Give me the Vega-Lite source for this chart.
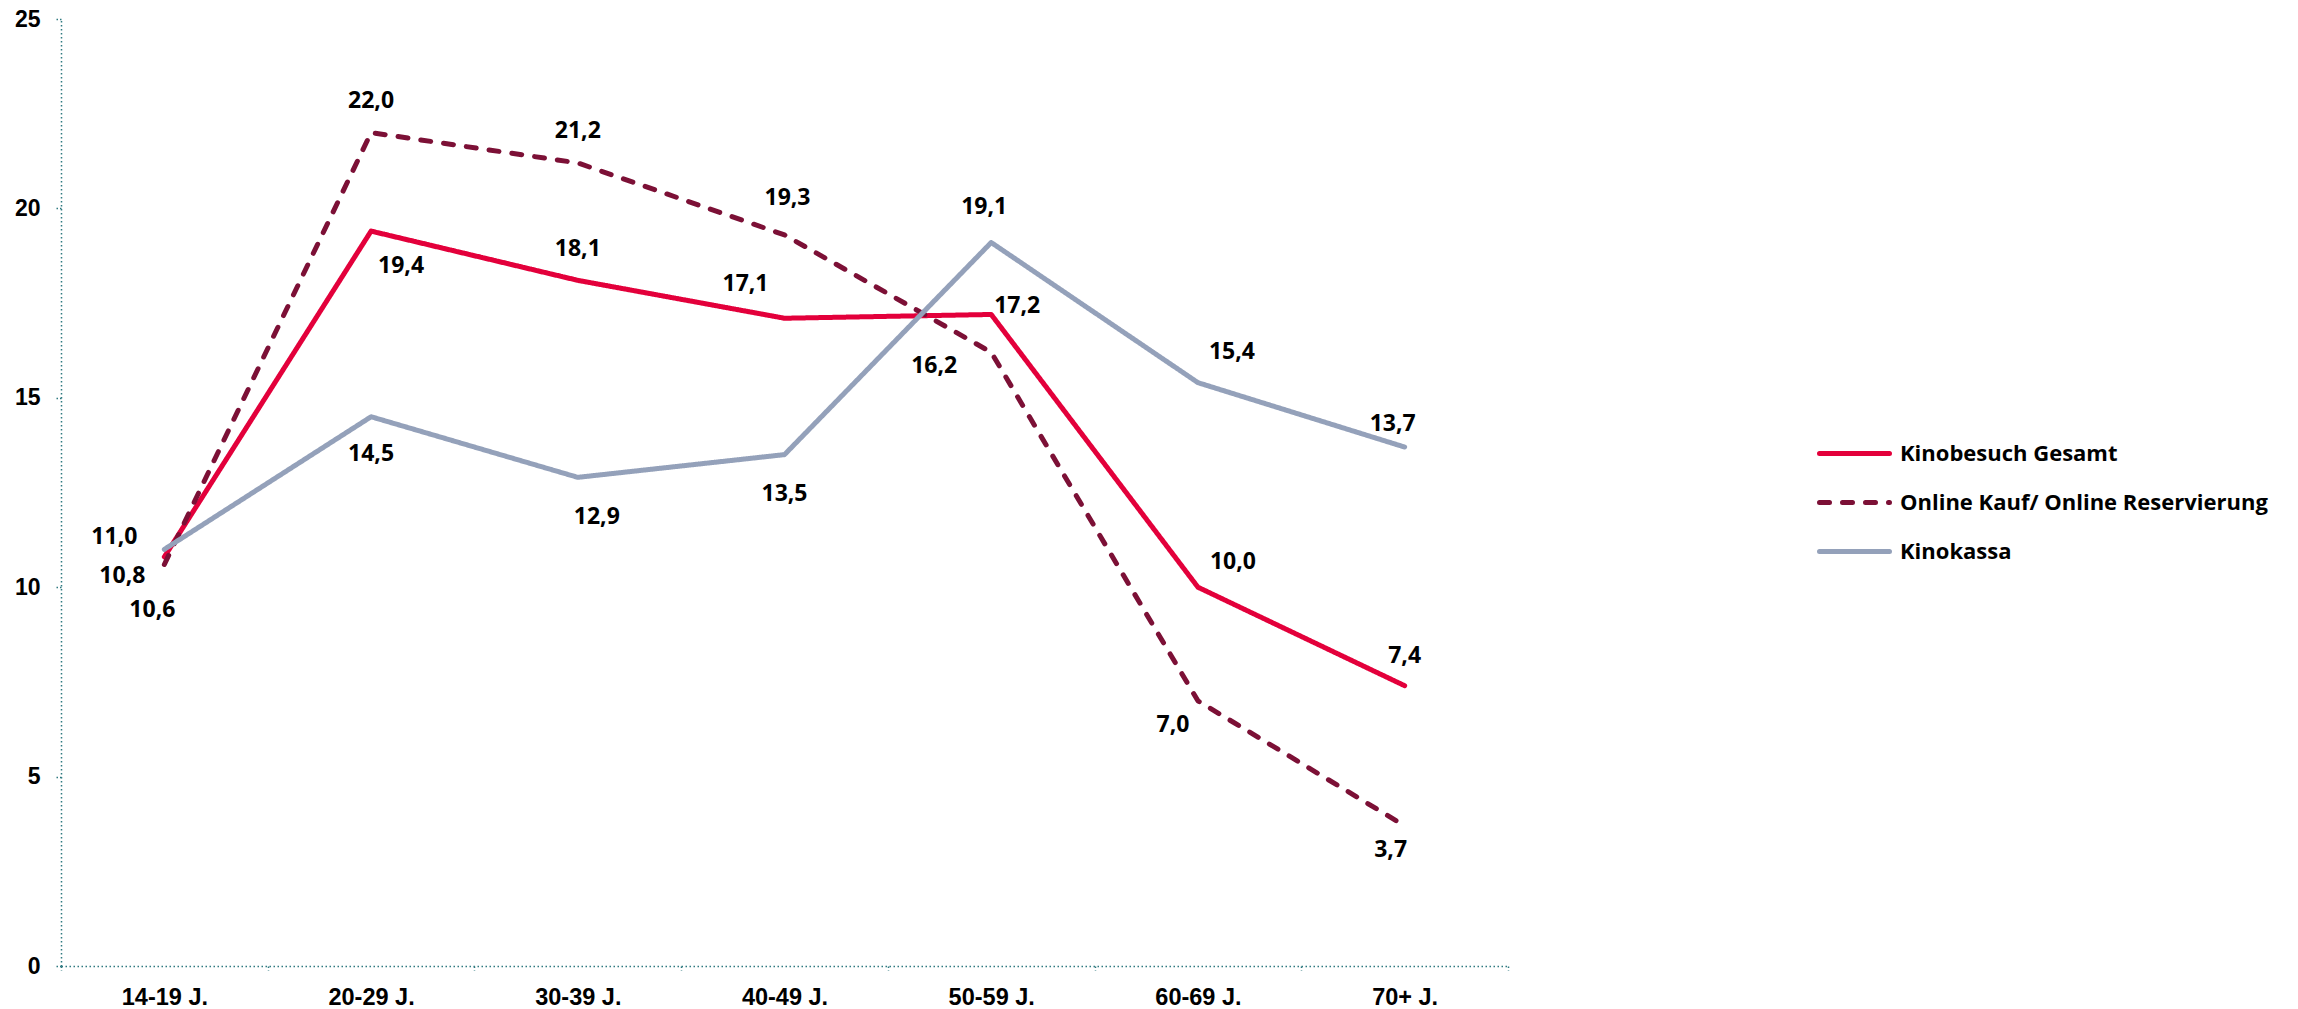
{
  "$schema": "https://vega.github.io/schema/vega-lite/v6.json",
  "width": 1447,
  "height": 947,
  "autosize": {"type": "none"},
  "padding": {"left": 61, "top": 19, "right": 790, "bottom": 43},
  "background": "#ffffff",
  "config": {
    "view": {"stroke": null},
    "locale": {"number": {"decimal": ",", "thousands": ".", "grouping": [3], "currency": ["", " €"]}}
  },
  "data": {
    "values": [
      {"Alter": "14-19 J.", "Serie": "Kinobesuch Gesamt", "Wert": 10.8},
      {"Alter": "20-29 J.", "Serie": "Kinobesuch Gesamt", "Wert": 19.4},
      {"Alter": "30-39 J.", "Serie": "Kinobesuch Gesamt", "Wert": 18.1},
      {"Alter": "40-49 J.", "Serie": "Kinobesuch Gesamt", "Wert": 17.1},
      {"Alter": "50-59 J.", "Serie": "Kinobesuch Gesamt", "Wert": 17.2},
      {"Alter": "60-69 J.", "Serie": "Kinobesuch Gesamt", "Wert": 10.0},
      {"Alter": "70+ J.", "Serie": "Kinobesuch Gesamt", "Wert": 7.4},
      {"Alter": "14-19 J.", "Serie": "Online Kauf/ Online Reservierung", "Wert": 10.6},
      {"Alter": "20-29 J.", "Serie": "Online Kauf/ Online Reservierung", "Wert": 22.0},
      {"Alter": "30-39 J.", "Serie": "Online Kauf/ Online Reservierung", "Wert": 21.2},
      {"Alter": "40-49 J.", "Serie": "Online Kauf/ Online Reservierung", "Wert": 19.3},
      {"Alter": "50-59 J.", "Serie": "Online Kauf/ Online Reservierung", "Wert": 16.2},
      {"Alter": "60-69 J.", "Serie": "Online Kauf/ Online Reservierung", "Wert": 7.0},
      {"Alter": "70+ J.", "Serie": "Online Kauf/ Online Reservierung", "Wert": 3.7},
      {"Alter": "14-19 J.", "Serie": "Kinokassa", "Wert": 11.0},
      {"Alter": "20-29 J.", "Serie": "Kinokassa", "Wert": 14.5},
      {"Alter": "30-39 J.", "Serie": "Kinokassa", "Wert": 12.9},
      {"Alter": "40-49 J.", "Serie": "Kinokassa", "Wert": 13.5},
      {"Alter": "50-59 J.", "Serie": "Kinokassa", "Wert": 19.1},
      {"Alter": "60-69 J.", "Serie": "Kinokassa", "Wert": 15.4},
      {"Alter": "70+ J.", "Serie": "Kinokassa", "Wert": 13.7}
    ]
  },
  "encoding": {
    "x": {
      "field": "Alter", "type": "nominal", "sort": null,
      "scale": {"type": "band", "paddingInner": 0, "paddingOuter": 0},
      "axis": {
        "title": null, "labelAngle": 0, "tickBand": "extent",
        "domainColor": "#2f7a80", "domainWidth": 1.5, "domainDash": [1.5, 2.5],
        "tickColor": "#2f7a80", "tickWidth": 1.5, "tickSize": 4, "tickDash": [1.5, 2],
        "labelFont": "Liberation Sans", "labelFontWeight": "bold", "labelFontSize": 23.5,
        "labelColor": "#000000", "labelPadding": 15, "grid": false
      }
    },
    "y": {
      "field": "Wert", "type": "quantitative",
      "scale": {"domain": [0, 25], "nice": false},
      "axis": {
        "title": null, "values": [0, 5, 10, 15, 20, 25], "grid": false,
        "domainColor": "#2f7a80", "domainWidth": 1.5, "domainDash": [1.5, 2.5],
        "tickColor": "#2f7a80", "tickWidth": 1.5, "tickSize": 6, "tickDash": [1.5, 2],
        "labelFont": "Liberation Sans", "labelFontWeight": "bold", "labelFontSize": 23,
        "labelColor": "#000000", "labelPadding": 15
      }
    }
  },
  "layer": [
    {
      "mark": {"type": "line", "strokeWidth": 5, "strokeCap": "round", "strokeJoin": "round"},
      "encoding": {
        "color": {
          "field": "Serie", "type": "nominal",
          "scale": {
            "domain": ["Kinobesuch Gesamt", "Online Kauf/ Online Reservierung", "Kinokassa"],
            "range": ["#e3003b", "#7c1036", "#94a1ba"]
          },
          "legend": {
            "title": null, "orient": "none", "legendX": 1756, "legendY": 397,
            "symbolType": "stroke", "symbolSize": 4900, "symbolStrokeWidth": 5,
            "labelFont": "Open Sans", "labelFontWeight": "bold", "labelFontSize": 22,
            "labelColor": "#000000", "labelOffset": 8, "labelLimit": 0, "rowPadding": -4, "padding": 0,
            "encode": {"symbols": {"update": {"strokeCap": {"value": "round"}}}}
          }
        },
        "strokeDash": {
          "field": "Serie", "type": "nominal",
          "scale": {
            "domain": ["Kinobesuch Gesamt", "Online Kauf/ Online Reservierung", "Kinokassa"],
            "range": [[1, 0], [10, 13], [1, 0]]
          },
          "legend": {
            "title": null, "orient": "none", "legendX": 1756, "legendY": 397,
            "symbolType": "stroke", "symbolSize": 4900, "symbolStrokeWidth": 5,
            "labelFont": "Open Sans", "labelFontWeight": "bold", "labelFontSize": 22,
            "labelColor": "#000000", "labelOffset": 8, "labelLimit": 0, "rowPadding": -4, "padding": 0,
            "encode": {"symbols": {"update": {"strokeCap": {"value": "round"}}}}
          }
        }
      }
    },
    {"mark": {"type": "text", "dx": -42, "dy": 19, "font": "Open Sans", "fontWeight": "bold", "fontSize": 23, "fill": "#000000"}, "transform": [{"filter": "datum.Serie === 'Kinobesuch Gesamt' && datum.Alter === '14-19 J.'"}], "encoding": {"text": {"field": "Wert", "type": "quantitative", "format": ".1f"}}},
    {"mark": {"type": "text", "dx": 30, "dy": 35, "font": "Open Sans", "fontWeight": "bold", "fontSize": 23, "fill": "#000000"}, "transform": [{"filter": "datum.Serie === 'Kinobesuch Gesamt' && datum.Alter === '20-29 J.'"}], "encoding": {"text": {"field": "Wert", "type": "quantitative", "format": ".1f"}}},
    {"mark": {"type": "text", "dx": 0, "dy": -31, "font": "Open Sans", "fontWeight": "bold", "fontSize": 23, "fill": "#000000"}, "transform": [{"filter": "datum.Serie === 'Kinobesuch Gesamt' && datum.Alter === '30-39 J.'"}], "encoding": {"text": {"field": "Wert", "type": "quantitative", "format": ".1f"}}},
    {"mark": {"type": "text", "dx": -39, "dy": -34, "font": "Open Sans", "fontWeight": "bold", "fontSize": 23, "fill": "#000000"}, "transform": [{"filter": "datum.Serie === 'Kinobesuch Gesamt' && datum.Alter === '40-49 J.'"}], "encoding": {"text": {"field": "Wert", "type": "quantitative", "format": ".1f"}}},
    {"mark": {"type": "text", "dx": 26, "dy": -8, "font": "Open Sans", "fontWeight": "bold", "fontSize": 23, "fill": "#000000"}, "transform": [{"filter": "datum.Serie === 'Kinobesuch Gesamt' && datum.Alter === '50-59 J.'"}], "encoding": {"text": {"field": "Wert", "type": "quantitative", "format": ".1f"}}},
    {"mark": {"type": "text", "dx": 35, "dy": -25, "font": "Open Sans", "fontWeight": "bold", "fontSize": 23, "fill": "#000000"}, "transform": [{"filter": "datum.Serie === 'Kinobesuch Gesamt' && datum.Alter === '60-69 J.'"}], "encoding": {"text": {"field": "Wert", "type": "quantitative", "format": ".1f"}}},
    {"mark": {"type": "text", "dx": 0, "dy": -30, "font": "Open Sans", "fontWeight": "bold", "fontSize": 23, "fill": "#000000"}, "transform": [{"filter": "datum.Serie === 'Kinobesuch Gesamt' && datum.Alter === '70+ J.'"}], "encoding": {"text": {"field": "Wert", "type": "quantitative", "format": ".1f"}}},
    {"mark": {"type": "text", "dx": -12, "dy": 46, "font": "Open Sans", "fontWeight": "bold", "fontSize": 23, "fill": "#000000"}, "transform": [{"filter": "datum.Serie === 'Online Kauf/ Online Reservierung' && datum.Alter === '14-19 J.'"}], "encoding": {"text": {"field": "Wert", "type": "quantitative", "format": ".1f"}}},
    {"mark": {"type": "text", "dx": 0, "dy": -32, "font": "Open Sans", "fontWeight": "bold", "fontSize": 23, "fill": "#000000"}, "transform": [{"filter": "datum.Serie === 'Online Kauf/ Online Reservierung' && datum.Alter === '20-29 J.'"}], "encoding": {"text": {"field": "Wert", "type": "quantitative", "format": ".1f"}}},
    {"mark": {"type": "text", "dx": 0, "dy": -32, "font": "Open Sans", "fontWeight": "bold", "fontSize": 23, "fill": "#000000"}, "transform": [{"filter": "datum.Serie === 'Online Kauf/ Online Reservierung' && datum.Alter === '30-39 J.'"}], "encoding": {"text": {"field": "Wert", "type": "quantitative", "format": ".1f"}}},
    {"mark": {"type": "text", "dx": 3, "dy": -37, "font": "Open Sans", "fontWeight": "bold", "fontSize": 23, "fill": "#000000"}, "transform": [{"filter": "datum.Serie === 'Online Kauf/ Online Reservierung' && datum.Alter === '40-49 J.'"}], "encoding": {"text": {"field": "Wert", "type": "quantitative", "format": ".1f"}}},
    {"mark": {"type": "text", "dx": -57, "dy": 14, "font": "Open Sans", "fontWeight": "bold", "fontSize": 23, "fill": "#000000"}, "transform": [{"filter": "datum.Serie === 'Online Kauf/ Online Reservierung' && datum.Alter === '50-59 J.'"}], "encoding": {"text": {"field": "Wert", "type": "quantitative", "format": ".1f"}}},
    {"mark": {"type": "text", "dx": -25, "dy": 24, "font": "Open Sans", "fontWeight": "bold", "fontSize": 23, "fill": "#000000"}, "transform": [{"filter": "datum.Serie === 'Online Kauf/ Online Reservierung' && datum.Alter === '60-69 J.'"}], "encoding": {"text": {"field": "Wert", "type": "quantitative", "format": ".1f"}}},
    {"mark": {"type": "text", "dx": -14, "dy": 24, "font": "Open Sans", "fontWeight": "bold", "fontSize": 23, "fill": "#000000"}, "transform": [{"filter": "datum.Serie === 'Online Kauf/ Online Reservierung' && datum.Alter === '70+ J.'"}], "encoding": {"text": {"field": "Wert", "type": "quantitative", "format": ".1f"}}},
    {"mark": {"type": "text", "dx": -50, "dy": -12, "font": "Open Sans", "fontWeight": "bold", "fontSize": 23, "fill": "#000000"}, "transform": [{"filter": "datum.Serie === 'Kinokassa' && datum.Alter === '14-19 J.'"}], "encoding": {"text": {"field": "Wert", "type": "quantitative", "format": ".1f"}}},
    {"mark": {"type": "text", "dx": 0, "dy": 37, "font": "Open Sans", "fontWeight": "bold", "fontSize": 23, "fill": "#000000"}, "transform": [{"filter": "datum.Serie === 'Kinokassa' && datum.Alter === '20-29 J.'"}], "encoding": {"text": {"field": "Wert", "type": "quantitative", "format": ".1f"}}},
    {"mark": {"type": "text", "dx": 19, "dy": 40, "font": "Open Sans", "fontWeight": "bold", "fontSize": 23, "fill": "#000000"}, "transform": [{"filter": "datum.Serie === 'Kinokassa' && datum.Alter === '30-39 J.'"}], "encoding": {"text": {"field": "Wert", "type": "quantitative", "format": ".1f"}}},
    {"mark": {"type": "text", "dx": 0, "dy": 39, "font": "Open Sans", "fontWeight": "bold", "fontSize": 23, "fill": "#000000"}, "transform": [{"filter": "datum.Serie === 'Kinokassa' && datum.Alter === '40-49 J.'"}], "encoding": {"text": {"field": "Wert", "type": "quantitative", "format": ".1f"}}},
    {"mark": {"type": "text", "dx": -7, "dy": -35, "font": "Open Sans", "fontWeight": "bold", "fontSize": 23, "fill": "#000000"}, "transform": [{"filter": "datum.Serie === 'Kinokassa' && datum.Alter === '50-59 J.'"}], "encoding": {"text": {"field": "Wert", "type": "quantitative", "format": ".1f"}}},
    {"mark": {"type": "text", "dx": 34, "dy": -31, "font": "Open Sans", "fontWeight": "bold", "fontSize": 23, "fill": "#000000"}, "transform": [{"filter": "datum.Serie === 'Kinokassa' && datum.Alter === '60-69 J.'"}], "encoding": {"text": {"field": "Wert", "type": "quantitative", "format": ".1f"}}},
    {"mark": {"type": "text", "dx": -12, "dy": -23, "font": "Open Sans", "fontWeight": "bold", "fontSize": 23, "fill": "#000000"}, "transform": [{"filter": "datum.Serie === 'Kinokassa' && datum.Alter === '70+ J.'"}], "encoding": {"text": {"field": "Wert", "type": "quantitative", "format": ".1f"}}}
  ]
}
